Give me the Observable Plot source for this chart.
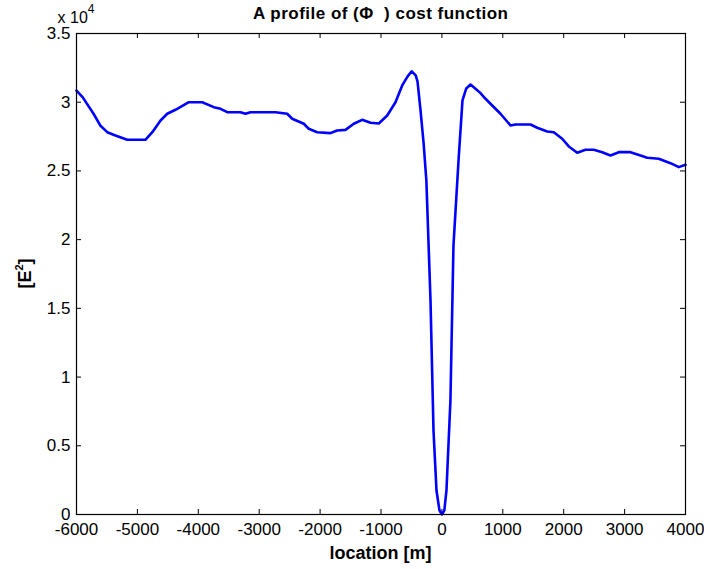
<!DOCTYPE html>
<html>
<head>
<meta charset="utf-8">
<script src="https://cdn.jsdelivr.net/npm/d3@7"></script>
<script src="https://cdn.jsdelivr.net/npm/@observablehq/plot@0.6"></script>
<style>
  body { margin: 0; background: #fff; }
  #chart svg { display: block; }
</style>
</head>
<body>
<div id="chart"></div>
<script>
const location_m = [-6000,-5900,-5720,-5610,-5495,-5360,-5168,-4865,-4755,-4620,-4510,-4375,-4155,-3935,-3745,-3635,-3525,-3307,-3225,-3143,-2732,-2540,-2458,-2268,-2186,-2048,-1830,-1720,-1583,-1447,-1310,-1172,-1036,-898,-762,-652,-560,-496,-430,-400,-351,-300,-255,-187,-138,-89,-40,0,40,75,140,190,273,338,400,470,552,634,716,826,962,1126,1208,1455,1565,1729,1837,1975,2084,2222,2358,2494,2632,2768,2905,3097,3261,3371,3561,3754,3890,4000];
const cost = [30850,30370,29160,28310,27820,27580,27270,27270,27820,28670,29160,29450,30000,30000,29640,29520,29275,29275,29160,29275,29275,29160,28800,28430,28070,27820,27750,27945,27990,28430,28720,28500,28450,29035,30000,31220,31900,32250,31950,31500,29400,27000,24300,15570,6110,1750,300,0,300,1750,8300,19575,25760,30130,31000,31290,30980,30660,30250,29760,29160,28310,28380,28380,28140,27870,27820,27340,26780,26320,26540,26540,26365,26125,26365,26365,26125,25960,25885,25565,25275,25450];
const xTicks = [-6000,-5000,-4000,-3000,-2000,-1000,0,1000,2000,3000,4000];
const yTicks = [0,5000,10000,15000,20000,25000,30000,35000];
const yTickLabels = ["0","0.5","1","1.5","2","2.5","3","3.5"];

const data = location_m.map((x, i) => ({x, y: cost[i]}));
const W = 704, H = 569, mL = 76, mR = 19, mT = 33, mB = 55;
const fw = W - mL - mR, fh = H - mT - mB;
const xMin = -6000, xMax = 4000, yMin = 0, yMax = 35000;
const tickPx = 5;
const dyT = tickPx / fh * (yMax - yMin);
const dxT = tickPx / fw * (xMax - xMin);
const FONT = "'Liberation Sans', Arial, sans-serif";

const chart = Plot.plot({
  width: W, height: H,
  marginLeft: mL, marginRight: mR, marginTop: mT, marginBottom: mB,
  style: {fontFamily: FONT, fontSize: "17px", color: "#000", background: "#fff"},
  x: {domain: [xMin, xMax]},
  y: {domain: [yMin, yMax]},
  marks: [
    Plot.axisX(xTicks, {tickSize: 0, tickPadding: 8, fontSize: 17, label: null, tickFormat: d => String(d)}),
    Plot.axisY(yTicks, {tickSize: 0, tickPadding: 6, fontSize: 17, label: null, tickFormat: d => yTickLabels[yTicks.indexOf(d)]}),
    Plot.ruleX(xTicks, {x: d => d, y1: yMin, y2: yMin + dyT, stroke: "#000", strokeWidth: 1}),
    Plot.ruleX(xTicks, {x: d => d, y1: yMax, y2: yMax - dyT, stroke: "#000", strokeWidth: 1}),
    Plot.ruleY(yTicks, {y: d => d, x1: xMin, x2: xMin + dxT, stroke: "#000", strokeWidth: 1}),
    Plot.ruleY(yTicks, {y: d => d, x1: xMax, x2: xMax - dxT, stroke: "#000", strokeWidth: 1}),
    Plot.line(data, {x: "x", y: "y", stroke: "#0000ff", strokeWidth: 2.6}),
    Plot.frame({stroke: "#000", strokeWidth: 1.2})
  ]
});

const svg = d3.select(chart);
svg.append("text")
  .attr("x", (mL + W - mR) / 2).attr("y", 19)
  .attr("text-anchor", "middle")
  .attr("font-family", FONT)
  .attr("font-size", 17).attr("font-weight", "bold")
  .attr("textLength", 255).attr("lengthAdjust", "spacing")
  .text("A profile of (\u03A6\u00a0\u00a0) cost function");
svg.append("text")
  .attr("x", (mL + W - mR) / 2).attr("y", 559)
  .attr("text-anchor", "middle")
  .attr("font-family", FONT)
  .attr("font-size", 18).attr("font-weight", "bold")
  .text("location [m]");
const yl = svg.append("text")
  .attr("transform", `translate(31,${mT + fh / 2}) rotate(-90)`)
  .attr("text-anchor", "middle")
  .attr("font-family", FONT)
  .attr("font-size", 18).attr("font-weight", "bold");
yl.append("tspan").text("[E");
yl.append("tspan").attr("font-size", 11).attr("dy", -8).text("2");
yl.append("tspan").attr("dy", 8).text("]");
const ex = svg.append("text")
  .attr("x", mL).attr("y", 23)
  .attr("font-family", FONT)
  .attr("font-size", 16);
ex.append("tspan").text("x 10");
ex.append("tspan").attr("font-size", 12).attr("dy", -10).text("4");

document.getElementById("chart").appendChild(chart);
</script>
</body>
</html>
